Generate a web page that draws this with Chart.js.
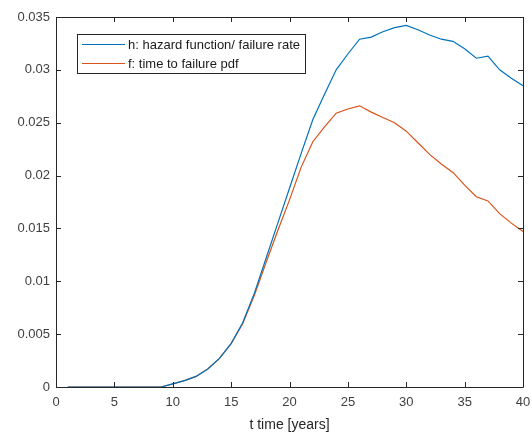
<!DOCTYPE html>
<html>
<head>
<meta charset="utf-8">
<script src="https://cdn.jsdelivr.net/npm/chart.js@4/dist/chart.umd.min.js"></script>
<style>
  html, body { margin: 0; padding: 0; background: #fff; }
  #wrap { width: 532px; height: 434px; }
</style>
</head>
<body>
<div id="wrap"><canvas id="myChart" width="532" height="434"></canvas></div>
<script>
// t in years
const years = [1,2,3,4,5,6,7,8,9,10,11,12,13,14,15,16,17,18,19,20,
  21,22,23,24,25,26,27,28,29,30,31,32,33,34,35,36,37,38,39,40]
// h: hazard function / failure rate
const hazard = [0,0,0,0,0,0,0,0,0,0.0003,0.0006,0.0010,0.0017,0.0027,0.0041,0.0061,0.0089,0.0122,0.0155,0.0188,
  0.0221,0.0253,0.0277,0.0300,0.0315,0.0329,0.0331,0.0336,0.0340,0.0342,0.0338,0.0333,0.0329,0.0327,0.0320,0.0311,0.0313,0.0300,0.0292,0.0285]
// f: time to failure pdf
const pdf = [0,0,0,0,0,0,0,0,0,0.0003,0.0006,0.0010,0.0017,0.0027,0.0041,0.0060,0.0087,0.0118,0.0148,0.0177,
  0.0208,0.0232,0.0246,0.0259,0.0263,0.0266,0.0260,0.0255,0.0250,0.0242,0.0231,0.0220,0.0211,0.0203,0.0191,0.0180,0.0176,0.0164,0.0155,0.0147]
const seriesNames = ['h: hazard function/ failure rate', 'f: time to failure pdf']
const xTitle = 't time [years]'
const xRange = [0, 40, 5]
const yRange = [0, 0.035, 0.005]

const axisColor = '#262626'
const textColor = '#404040'

function points(vals){
  return years.map(function(t, i){ return {x: t, y: vals[i]} })
}

// matlab-ish box, inward ticks and legend
const matlabAxes = {
  id: 'matlabAxes',
  afterDatasetsDraw: function(chart){
    const ctx = chart.ctx
    const a = chart.chartArea
    const xs = chart.scales.x
    const ys = chart.scales.y
    const tl = 5
    ctx.save()
    ctx.strokeStyle = axisColor
    ctx.lineWidth = 1
    ctx.beginPath()
    ctx.rect(Math.round(a.left) + 0.5, Math.round(a.top) + 0.5,
      Math.round(a.right - a.left), Math.round(a.bottom - a.top))
    xs.ticks.forEach(function(t){
      const px = Math.round(xs.getPixelForValue(t.value)) + 0.5
      ctx.moveTo(px, a.bottom); ctx.lineTo(px, a.bottom - tl)
      ctx.moveTo(px, a.top); ctx.lineTo(px, a.top + tl)
    })
    ys.ticks.forEach(function(t){
      const py = Math.round(ys.getPixelForValue(t.value)) + 0.5
      ctx.moveTo(a.left, py); ctx.lineTo(a.left + tl, py)
      ctx.moveTo(a.right, py); ctx.lineTo(a.right - tl, py)
    })
    ctx.stroke()

    // legend
    const lx = 77.5, ly = 34.5, lw = 228, lh = 39
    ctx.fillStyle = '#fff'
    ctx.fillRect(lx, ly, lw, lh)
    ctx.strokeStyle = '#262626'
    ctx.strokeRect(lx, ly, lw, lh)
    ctx.font = '13px "Liberation Sans", Arial, sans-serif'
    ctx.textBaseline = 'middle'
    chart.data.datasets.forEach(function(ds, i){
      const y = 44.5 + i * 19
      ctx.strokeStyle = ds.borderColor
      ctx.lineWidth = 1.2
      ctx.beginPath()
      ctx.moveTo(82, y); ctx.lineTo(125, y)
      ctx.stroke()
      ctx.fillStyle = '#1a1a1a'
      ctx.fillText(ds.label, 128, y + 0.5)
    })
    ctx.restore()
  }
}

const ctx = document.getElementById('myChart').getContext('2d')
const myChart = new Chart(ctx, {
  type: 'line',
  data: {
    datasets: [{
      label: seriesNames[0],
      data: points(hazard),
      borderColor: '#0072BD',
      borderWidth: 1.2,
      pointRadius: 0,
      tension: 0,
      fill: false
    }, {
      label: seriesNames[1],
      data: points(pdf),
      borderColor: '#D95319',
      borderWidth: 1.2,
      pointRadius: 0,
      tension: 0,
      fill: false
    }]
  },
  options: {
    responsive: false,
    animation: false,
    layout: { padding: { top: 17, right: 9, left: 0, bottom: 0 } },
    plugins: {
      legend: { display: false },
      tooltip: { enabled: false }
    },
    scales: {
      x: {
        type: 'linear',
        min: xRange[0],
        max: xRange[1],
        grid: { display: false, drawTicks: false },
        border: { display: false },
        afterFit: function(s){
          s.height = 47
          s.paddingLeft = 0
          s.paddingRight = 0
        },
        ticks: {
          stepSize: xRange[2],
          padding: 8,
          color: textColor,
          font: { family: '"Liberation Sans", Arial, sans-serif', size: 13 },
          maxRotation: 0
        },
        title: {
          display: true,
          text: xTitle,
          color: '#262626',
          padding: { top: 0, bottom: 0 },
          font: { family: '"Liberation Sans", Arial, sans-serif', size: 14 }
        }
      },
      y: {
        type: 'linear',
        min: yRange[0],
        max: yRange[1],
        grid: { display: false, drawTicks: false },
        border: { display: false },
        afterFit: function(s){
          s.width = 56
          s.paddingTop = 0
          s.paddingBottom = 0
        },
        ticks: {
          stepSize: yRange[2],
          padding: 6,
          color: textColor,
          font: { family: '"Liberation Sans", Arial, sans-serif', size: 13 },
          callback: function(v){ return String(parseFloat(v.toFixed(3))) }
        }
      }
    }
  },
  plugins: [matlabAxes]
})
</script>
</body>
</html>
